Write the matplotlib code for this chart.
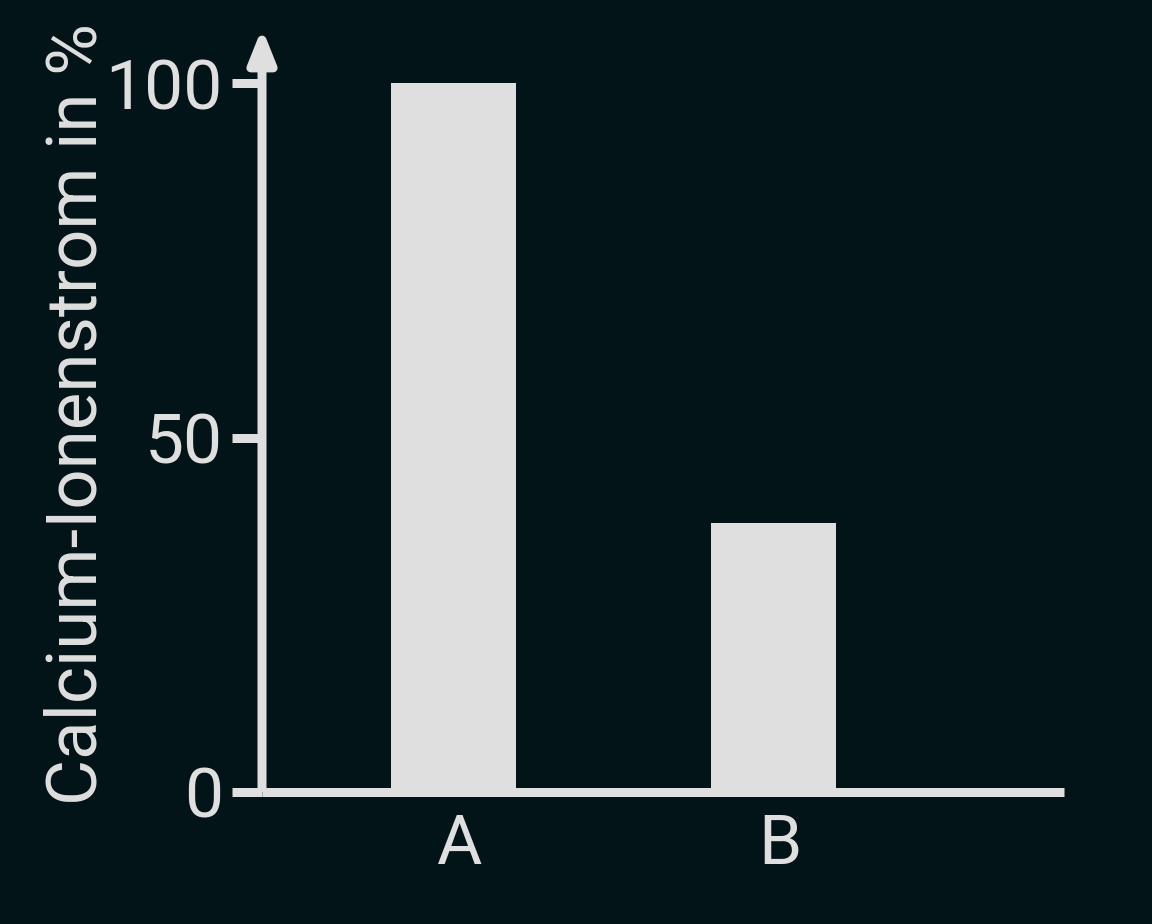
import matplotlib
matplotlib.use("Agg")
import matplotlib.pyplot as plt
from matplotlib.transforms import ScaledTranslation

categories = ["A", "B"]
values = [100, 38]
yticks = [0, 50, 100]
ylabel = "Calcium-Ionenstrom in %"

BG = "#031419"
FG = "#dfdfdf"
W, H = 1152, 924
PX = 72 / 100  # points per pixel at dpi 100

plt.rcParams['font.family'] = ['Roboto', 'DejaVu Sans']

fig = plt.figure(figsize=(W / 100, H / 100), dpi=100, facecolor=BG)
left, right, bottom, top = 262, 1064, 792, 28
ax = fig.add_axes([left / W, (H - bottom) / H, (right - left) / W, (bottom - top) / H])
ax.set_facecolor(BG)

x = list(range(len(categories)))
ax.bar(x, values, width=0.39, color=FG, edgecolor='none', zorder=2)

ax.set_xlim(-0.596, 1.905)
ax.set_ylim(0, 107.8)

for s in ['top', 'right', 'left']:
    ax.spines[s].set_visible(False)
ax.spines['bottom'].set_color(FG)
ax.spines['bottom'].set_linewidth(9 * PX)
ax.spines['bottom'].set_capstyle('butt')
ax.spines['bottom'].set_zorder(3)

# y axis with arrow
ax.annotate('', xy=(0, 1), xycoords='axes fraction', xytext=(0, 0),
            textcoords='axes fraction',
            arrowprops=dict(arrowstyle='-|>,head_length=20,head_width=8',
                            mutation_scale=1, lw=9 * PX, color=FG,
                            shrinkA=0, shrinkB=0, capstyle='butt'),
            annotation_clip=False, zorder=4)

ax.set_xticks(x)
ax.set_xticklabels(categories)
ax.set_yticks(yticks)
ax.set_yticklabels([str(v) for v in yticks])
ax.tick_params(axis='x', length=0, pad=20 * PX, labelsize=50, labelcolor=FG)
ax.tick_params(axis='y', length=30 * PX, width=9 * PX, color=FG, direction='out',
               pad=9 * PX, labelsize=50, labelcolor=FG)
shift = ScaledTranslation(6 / 100, 0, fig.dpi_scale_trans)
for t in ax.get_xticklabels():
    t.set_transform(t.get_transform() + shift)
for t in ax.get_yticklabels():
    t.set_fontfamily(['Liberation Sans Narrow', 'Roboto'])

fig.text(77 / W, (H - 414) / H, ylabel, rotation=90, ha='center', va='center',
         fontsize=51, color=FG)

fig.savefig('out.png', dpi=100, facecolor=BG)
